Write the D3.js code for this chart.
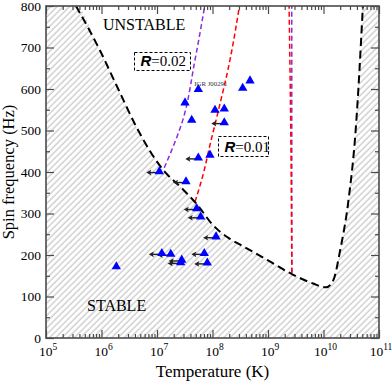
<!DOCTYPE html>
<html><head><meta charset="utf-8">
<script src="https://cdn.jsdelivr.net/npm/d3@7"></script>
<style>
html,body{margin:0;padding:0;background:#fff;}
svg{display:block;}
</style></head>
<body>
<svg id="chart" width="392" height="382"></svg>
<script>
// ---------- data ----------
const tempDecades = [1e5, 1e6, 1e7, 1e8, 1e9, 1e10, 1e11];
const tempExponents = ["5", "6", "7", "8", "9", "10", "11"];
const freqTicks = [0, 100, 200, 300, 400, 500, 600, 700, 800];

// r-mode instability curve (boundary of the stable region)
const curveT = [3.47e5, 9.3e5, 2.0e6, 4.27e6, 1.29e7, 2.75e7, 5.25e7, 1.02e8, 2.0e8, 3.16e8, 1.0e9, 2.69e9, 6.3e9, 1.12e10, 1.51e10, 2.0e10, 2.82e10, 3.8e10, 5.13e10];
const curveF = [800, 694, 600, 508, 405, 362, 322, 272, 240, 225, 187, 154, 132, 122, 140, 212, 332, 501, 800];

// R = 0.02 window edges
const r02LeftT = [1.35e7, 1.95e7, 2.79e7, 4.84e7, 7.24e7];
const r02LeftF = [410, 461, 517, 670, 800];
const r02RightT = [2.69e9, 2.68e9];
const r02RightF = [157, 800];

// R = 0.01 window edges
const r01LeftT = [4.84e7, 6.75e7, 9.0e7, 1.26e8, 1.98e8, 3.06e8];
const r01LeftF = [328, 393, 465, 545, 658, 800];
const r01RightT = [2.69e9, 2.57e9, 2.4e9];
const r01RightF = [157, 500, 800];

// observed neutron stars
const starT = [1.10e7, 3.2e7, 4.22e7, 5.55e7, 1.11e8, 1.63e8, 3.5e8, 4.74e8, 1.63e8, 5.55e7, 9.0e7, 3.33e7, 5.19e7, 6.12e7, 1.16e8, 1.22e7, 1.77e7, 2.79e7, 2.67e7, 7.11e7, 8.05e7, 1.85e6];
const starF = [401, 567, 525, 599, 549, 552, 602, 620, 519, 434, 441, 377, 312, 292, 244, 204, 202, 188, 182, 204, 181, 172];
const starUpperLimit = [true, false, false, false, false, false, false, false, true, true, false, true, true, true, true, true, true, true, true, true, true, false];
const starNames = ["", "", "", "IGR J00291", "", "", "", "", "", "", "", "", "", "", "", "", "", "", "", "", "", ""];

// ---------- layout ----------
const svg = d3.select("#chart");
const L = 46, R = 379, T = 6, B = 338;
const serif = "'Liberation Serif','Times New Roman',Times,serif";
const sans = "'Liberation Sans',Arial,Helvetica,sans-serif";
const axisColor = "#4a4a4a";

const x = d3.scaleLog().domain([1e5, 1e11]).range([L, R]);
const y = d3.scaleLinear().domain([0, 800]).range([B, T]);

const defs = svg.append("defs");
const pat = defs.append("pattern").attr("id", "hatch")
  .attr("patternUnits", "userSpaceOnUse").attr("width", 4.4).attr("height", 4.4)
  .attr("patternTransform", "rotate(45)");
pat.append("rect").attr("width", 4.4).attr("height", 4.4).attr("fill", "#fff");
pat.append("line").attr("x1", 1).attr("y1", 0).attr("x2", 1).attr("y2", 4.4)
  .attr("stroke", "#c6c6c6").attr("stroke-width", 1.2);
defs.append("clipPath").attr("id", "clip").append("rect")
  .attr("x", L).attr("y", T).attr("width", R - L).attr("height", B - T);

const plot = svg.append("g").attr("clip-path", "url(#clip)");

const zip = (ts, fs) => ts.map((t, i) => [t, fs[i]]);
const line = d3.line().x(d => x(d[0])).y(d => y(d[1])).curve(d3.curveMonotoneX);
const lineY = d3.line().x(d => x(d[0])).y(d => y(d[1])).curve(d3.curveMonotoneY);

// hatched stable region
const curvePts = zip(curveT, curveF);
const area = d3.area().x(d => x(d[0])).y0(y(0)).y1(d => y(d[1])).curve(d3.curveMonotoneX);
const areaPts = [[1e5, 800]].concat(curvePts).concat([[1e11, 800]]);
plot.append("path").attr("d", area(areaPts)).attr("fill", "url(#hatch)");

// R curves
function rLine(ts, fs, color) {
  plot.append("path").attr("d", lineY(zip(ts, fs)))
    .attr("fill", "none").attr("stroke", color).attr("stroke-width", 1.5).attr("stroke-dasharray", "5,3");
}
rLine(r02LeftT, r02LeftF, "#8a2be2");
rLine(r02RightT, r02RightF, "#8a2be2");
rLine(r01LeftT, r01LeftF, "#ff0000");
rLine(r01RightT, r01RightF, "#ff0000");

// instability curve
plot.append("path").attr("d", line(curvePts))
  .attr("fill", "none").attr("stroke", "#000").attr("stroke-width", 2).attr("stroke-dasharray", "8,4.5");

// arrows (upper limits on temperature)
const stars = zip(starT, starF).map((d, i) => ({t: d[0], f: d[1], up: starUpperLimit[i], name: starNames[i]}));
const arrowG = plot.append("g");
stars.filter(d => d.up).forEach(d => {
  const cx = x(d.t), cy = y(d.f) + 1;
  arrowG.append("line").attr("x1", cx - 1).attr("y1", cy).attr("x2", cx - 10).attr("y2", cy)
    .attr("stroke", "#222").attr("stroke-width", 1.4);
  arrowG.append("path")
    .attr("d", `M${cx - 13},${cy} L${cx - 8},${cy - 2.8} L${cx - 9},${cy} L${cx - 8},${cy + 2.8} Z`)
    .attr("fill", "#222");
});

// triangles
plot.selectAll("path.star").data(stars).join("path").attr("class", "star")
  .attr("d", d3.symbol().type(d3.symbolTriangle).size(38))
  .attr("transform", d => `translate(${x(d.t)},${y(d.f)})`)
  .attr("fill", "#0000ff");

// star name label
stars.filter(d => d.name).forEach(d => {
  svg.append("text").attr("x", x(d.t) - 4).attr("y", y(d.f) - 3)
    .style("font-family", serif).attr("font-size", 6.8).attr("fill", "#333").text(d.name);
});

// ---------- axes ----------
const minorT = [];
for (let e = 5; e < 11; e++) for (let k = 2; k <= 9; k++) minorT.push(k * Math.pow(10, e));
const minorF = d3.range(50, 800, 100);

function styleAxis(g) {
  g.select(".domain").remove();
  g.selectAll("line").attr("stroke", axisColor).attr("stroke-width", 1.2);
}
svg.append("g").attr("transform", `translate(0,${B})`)
  .call(d3.axisBottom(x).tickValues(tempDecades).tickSize(-8).tickSizeOuter(0).tickFormat("")).call(styleAxis);
svg.append("g").attr("transform", `translate(0,${B})`)
  .call(d3.axisBottom(x).tickValues(minorT).tickSize(-4).tickSizeOuter(0).tickFormat("")).call(styleAxis);
svg.append("g").attr("transform", `translate(0,${T})`)
  .call(d3.axisTop(x).tickValues(tempDecades).tickSize(-8).tickSizeOuter(0).tickFormat("")).call(styleAxis);
svg.append("g").attr("transform", `translate(0,${T})`)
  .call(d3.axisTop(x).tickValues(minorT).tickSize(-4).tickSizeOuter(0).tickFormat("")).call(styleAxis);

const leftAx = svg.append("g").attr("transform", `translate(${L},0)`)
  .call(d3.axisLeft(y).tickValues(freqTicks).tickSize(-8).tickSizeOuter(0).tickPadding(5).tickFormat(d3.format("d")))
  .call(styleAxis);
leftAx.attr("font-family", null).attr("font-size", null);
leftAx.selectAll("text").style("font-family", serif).style("font-size", "13.5px").attr("fill", "#000");
svg.append("g").attr("transform", `translate(${L},0)`)
  .call(d3.axisLeft(y).tickValues(minorF).tickSize(-4).tickSizeOuter(0).tickFormat("")).call(styleAxis);
svg.append("g").attr("transform", `translate(${R},0)`)
  .call(d3.axisRight(y).tickValues(freqTicks).tickSize(-8).tickSizeOuter(0).tickFormat("")).call(styleAxis);
svg.append("g").attr("transform", `translate(${R},0)`)
  .call(d3.axisRight(y).tickValues(minorF).tickSize(-4).tickSizeOuter(0).tickFormat("")).call(styleAxis);

// frame
svg.append("rect").attr("x", L).attr("y", T).attr("width", R - L).attr("height", B - T)
  .attr("fill", "none").attr("stroke", axisColor).attr("stroke-width", 1.6);

// x tick labels with superscripts
tempDecades.forEach((d, i) => {
  const t = svg.append("text").attr("x", x(d) + 2).attr("y", 356)
    .attr("text-anchor", "middle").style("font-family", serif).style("font-size", "13.5px");
  t.append("tspan").text("10");
  t.append("tspan").attr("dy", -6).style("font-size", "9.5px").text(tempExponents[i]);
});

// axis titles
svg.append("text").attr("x", (L + R) / 2).attr("y", 377).attr("text-anchor", "middle")
  .style("font-family", serif).style("font-size", "17px").text("Temperature (K)");
svg.append("text").attr("transform", `translate(14,${(T + B) / 2}) rotate(-90)`).attr("text-anchor", "middle")
  .style("font-family", serif).style("font-size", "16.5px").text("Spin frequency (Hz)");

// region labels
svg.append("text").attr("x", 103).attr("y", 30).style("font-family", serif).style("font-size", "16px").text("UNSTABLE");
svg.append("text").attr("x", 87).attr("y", 311).style("font-family", serif).style("font-size", "16px").text("STABLE");

// R boxes
function rBox(bx, by, bw, bh, val) {
  svg.append("rect").attr("x", bx).attr("y", by).attr("width", bw).attr("height", bh)
    .attr("fill", "#fff").attr("stroke", "#000").attr("stroke-width", 1).attr("stroke-dasharray", "3,2");
  const t = svg.append("text").attr("x", bx + 6).attr("y", by + bh - 4.5).style("font-size", "15px");
  t.append("tspan").style("font-family", sans).attr("font-weight", "bold").attr("font-style", "italic").text("R");
  t.append("tspan").style("font-family", serif).text("=" + val);
}
rBox(134.5, 52.5, 56, 18, "0.02");
rBox(218.5, 136.5, 50, 20, "0.01");
</script>
</body></html>
